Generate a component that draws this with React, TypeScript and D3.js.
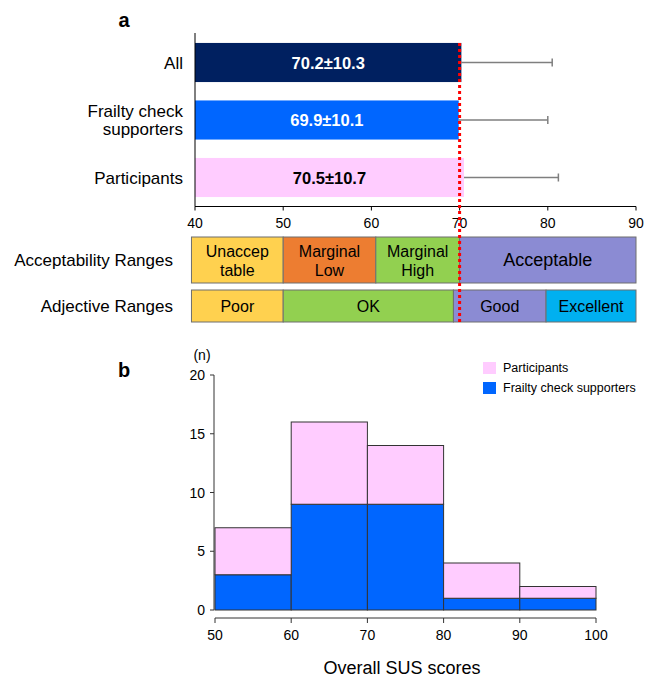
import React from "react";
import * as d3 from "d3";

// ---------- Panel a data ----------
const categories = ["All", "Frailty check supporters", "Participants"];
const categoryLines = [["All"], ["Frailty check", "supporters"], ["Participants"]];
const means = [70.2, 69.9, 70.5];
const sds = [10.3, 10.1, 10.7];
const barColors = ["#002060", "#0066FF", "#FFCCFF"];
const barTextColors = ["#FFFFFF", "#FFFFFF", "#000000"];
const xTicksA = [40, 50, 60, 70, 80, 90];
const cutoff = 70;

const acceptLabels = [["Unaccep", "table"], ["Marginal", "Low"], ["Marginal", "High"], ["Acceptable"]];
const acceptBreaks = [39.6, 50, 60.5, 70, 90];
const acceptColors = ["#FFD14F", "#ED7D31", "#92D050", "#8B8BD3"];

const adjLabels = ["Poor", "OK", "Good", "Excellent"];
const adjBreaks = [39.6, 50, 69.3, 79.8, 90];
const adjColors = ["#FFD14F", "#92D050", "#8B8BD3", "#00B0F0"];

// ---------- Panel b data ----------
const binStarts = [50, 60, 70, 80, 90];
const binWidth = 10;
const supporters = [3, 9, 9, 1, 1];
const participants = [4, 7, 5, 3, 1];
const yTicksB = [0, 5, 10, 15, 20];
const xTicksB = [50, 60, 70, 80, 90, 100];

const FONT = "'Liberation Sans', Arial, sans-serif";

export default function App() {
  const W = 646, H = 677;

  const xA = d3.scaleLinear().domain([40, 90]).range([195, 636]);
  const yA = d3.scaleBand<string>().domain(categories).range([33.75, 206.25]).paddingInner(0.32).paddingOuter(0.16);
  const axisY = 206.5;

  const accTop = 237, accBot = 283;
  const adjTop = 290, adjBot = 322;

  const xB = d3.scaleLinear().domain([50, 100]).range([215, 596]);
  const yB = d3.scaleLinear().domain([0, 20]).range([610, 375]);

  const rows = binStarts.map((b, i) => ({ bin: b, supporters: supporters[i], participants: participants[i] }));
  const stack = d3.stack<any>().keys(["supporters", "participants"])(rows);
  const histColors: Record<string, string> = { supporters: "#0066FF", participants: "#FFCCFF" };

  return (
    <svg width={W} height={H} style={{ position: "absolute", left: 0, top: 0, background: "#fff" }} fontFamily={FONT}>
      <rect x={0} y={0} width={W} height={H} fill="#fff" />
      {/* Panel a label */}
      <text x={124} y={27} fontSize={20} fontWeight="bold" textAnchor="middle">a</text>

      {/* bars */}
      {categories.map((c, i) => {
        const y0 = yA(c)!;
        const bh = yA.bandwidth();
        const x1 = xA(means[i]);
        const xe = xA(means[i] + sds[i]);
        const cy = y0 + bh / 2;
        return (
          <g key={c}>
            <rect x={xA(40)} y={y0} width={x1 - xA(40)} height={bh} fill={barColors[i]} />
            <line x1={x1} x2={xe} y1={cy} y2={cy} stroke="#7F7F7F" strokeWidth={1.5} />
            <line x1={xe} x2={xe} y1={cy - 4} y2={cy + 4} stroke="#7F7F7F" strokeWidth={1.5} />
            <text x={(xA(40) + x1) / 2} y={cy + 6} fontSize={16.5} fontWeight="bold" fill={barTextColors[i]} textAnchor="middle">
              {`${means[i].toFixed(1)}±${sds[i].toFixed(1)}`}
            </text>
            {categoryLines[i].map((ln, k) => (
              <text key={k} x={183} y={cy + 6 + (k - (categoryLines[i].length - 1) / 2) * 18} fontSize={17} textAnchor="end" fill="#000">
                {ln}
              </text>
            ))}
          </g>
        );
      })}

      {/* axes panel a */}
      <line x1={195} x2={195} y1={33} y2={axisY} stroke="#000" strokeWidth={1} />
      <line x1={195} x2={xA(90)} y1={axisY} y2={axisY} stroke="#000" strokeWidth={1} />
      {xTicksA.map((t) => (
        <g key={t}>
          <line x1={xA(t)} x2={xA(t)} y1={axisY} y2={axisY + 4} stroke="#000" />
          <text x={xA(t)} y={228} fontSize={14} textAnchor="middle">{t}</text>
        </g>
      ))}

      {/* range rows */}
      <text x={173} y={266} fontSize={17} textAnchor="end">Acceptability Ranges</text>
      <text x={173} y={312} fontSize={17} textAnchor="end">Adjective Ranges</text>
      {acceptLabels.map((lab, i) => {
        const x0 = xA(acceptBreaks[i]);
        const x1 = xA(acceptBreaks[i + 1]);
        const cy = (accTop + accBot) / 2;
        const fs = lab.length === 1 ? 18 : 16;
        return (
          <g key={i}>
            <rect x={x0} y={accTop} width={x1 - x0} height={accBot - accTop} fill={acceptColors[i]} stroke="#6f6f6f" strokeWidth={1} />
            {lab.map((ln, k) => (
              <text key={k} x={(x0 + x1) / 2} y={cy + 6 + (k - (lab.length - 1) / 2) * 19} fontSize={fs} textAnchor="middle">{ln}</text>
            ))}
          </g>
        );
      })}
      {adjLabels.map((lab, i) => {
        const x0 = xA(adjBreaks[i]);
        const x1 = xA(adjBreaks[i + 1]);
        const cy = (adjTop + adjBot) / 2;
        return (
          <g key={i}>
            <rect x={x0} y={adjTop} width={x1 - x0} height={adjBot - adjTop} fill={adjColors[i]} stroke="#6f6f6f" strokeWidth={1} />
            <text x={(x0 + x1) / 2} y={cy + 6} fontSize={16} textAnchor="middle">{lab}</text>
          </g>
        );
      })}

      {/* red cutoff line */}
      <line x1={xA(cutoff)} x2={xA(cutoff)} y1={43} y2={adjBot} stroke="#FF0000" strokeWidth={3} strokeDasharray="3 3" />

      {/* Panel b */}
      <text x={124} y={377} fontSize={20} fontWeight="bold" textAnchor="middle">b</text>
      <text x={202} y={360} fontSize={14} textAnchor="middle">(n)</text>
      {stack.map((layer) =>
        layer.map((d, i) => (
          <rect key={layer.key + i} x={xB(binStarts[i])} y={yB(d[1])} width={xB(binStarts[i] + binWidth) - xB(binStarts[i])}
            height={yB(d[0]) - yB(d[1])} fill={histColors[layer.key]} stroke="#333" strokeWidth={1} />
        ))
      )}
      <line x1={214} x2={214} y1={yB(20)} y2={yB(0)} stroke="#333" />
      {yTicksB.map((t) => (
        <g key={t}>
          <line x1={210} x2={214} y1={yB(t)} y2={yB(t)} stroke="#333" />
          <text x={205} y={yB(t) + 5} fontSize={14} textAnchor="end">{t}</text>
        </g>
      ))}
      <line x1={xB(50)} x2={xB(100)} y1={618} y2={618} stroke="#333" />
      {xTicksB.map((t) => (
        <g key={t}>
          <line x1={xB(t)} x2={xB(t)} y1={618} y2={623} stroke="#333" />
          <text x={xB(t)} y={640} fontSize={14} textAnchor="middle">{t}</text>
        </g>
      ))}
      <text x={402} y={674} fontSize={18} textAnchor="middle">Overall SUS scores</text>

      {/* legend */}
      <rect x={483} y={362} width={13} height={12} fill="#FFCCFF" />
      <text x={503} y={372} fontSize={12.5}>Participants</text>
      <rect x={483} y={382} width={13} height={12} fill="#0066FF" />
      <text x={503} y={392} fontSize={12.5}>Frailty check supporters</text>
    </svg>
  );
}
